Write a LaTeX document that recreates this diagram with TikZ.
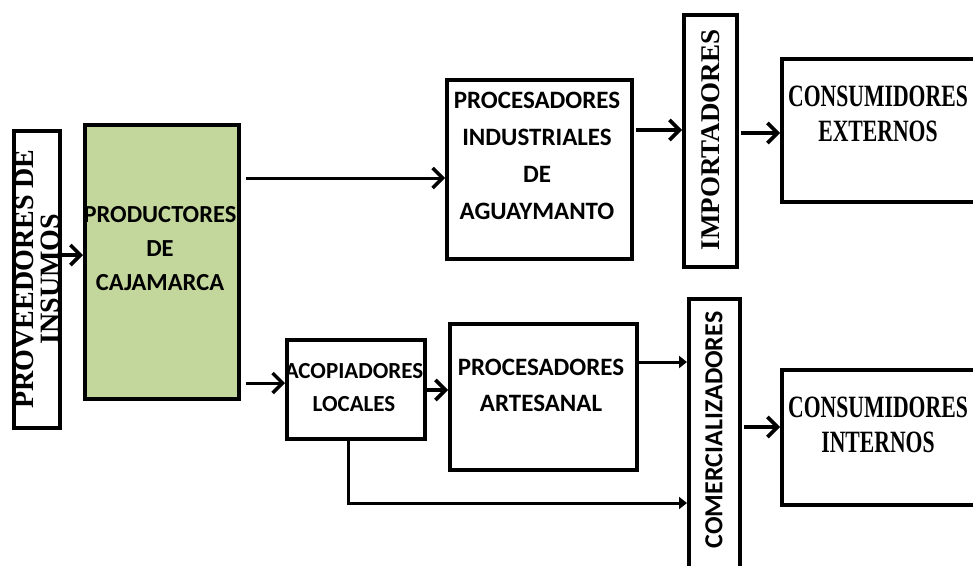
\documentclass[tikz,border=0pt]{standalone}
\usepackage{fontspec}
\setmainfont{Liberation Serif}
\newfontfamily\sansf{Carlito}
\usetikzlibrary{arrows.meta}
\definecolor{prodgreen}{HTML}{C3D69B}
\newcommand{\cond}[1]{\scalebox{0.7}[1]{#1}}
\tikzset{
  box/.style={draw, line width=3.8pt, inner sep=0pt, anchor=north west},
  st/.style={font=\sansf\bfseries\fontsize{25}{35}\selectfont, align=center, inner sep=0pt},
  se/.style={font=\bfseries\fontsize{31}{35}\selectfont, align=center, inner sep=0pt},
  arr/.style={line width=3pt, -{Straight Barb[length=10pt,width=20pt,line width=3.4pt]}},
  arrt/.style={line width=4.5pt, -{Straight Barb[length=10pt,width=20pt,line width=3.6pt]}},
  arrs/.style={line width=3pt, -{Triangle[length=8pt,width=12pt]}}
}
\begin{document}
\begin{tikzpicture}[x=1pt,y=-1pt]
\useasboundingbox (0,0) rectangle (973,565);
\fill[white] (0,0) rectangle (973,565);
\clip (0,0) rectangle (973,565);
% boxes
\node[box, minimum width=46pt, minimum height=297pt] (prov) at (12,129) {};
\node[box, fill=prodgreen, minimum width=154pt, minimum height=274pt] (prod) at (83,123) {};
\node[box, minimum width=185pt, minimum height=179pt] (pind) at (445,78) {};
\node[box, minimum width=53pt, minimum height=252pt] (imp) at (682,13) {};
\node[box, minimum width=220pt, minimum height=143pt] (cext) at (780,57) {};
\node[box, minimum width=138pt, minimum height=99pt] (aco) at (285,338) {};
\node[box, minimum width=187pt, minimum height=146pt] (part) at (448,322) {};
\node[box, minimum width=51pt, minimum height=300pt] (com) at (687,297) {};
\node[box, minimum width=220pt, minimum height=135pt] (cint) at (780,368) {};
% texts
\node[se, rotate=90, font=\bfseries\fontsize{28}{26}\selectfont] (tprov) at (37,279) {PROVEEDORES DE\\INSUMOS};
\node[st, font=\sansf\bfseries\fontsize{24.5}{34}\selectfont] (tprod) at (160,249) {PRODUCTORES\\DE\\CAJAMARCA};
\node[st, font=\sansf\bfseries\fontsize{25}{37}\selectfont] (tpind) at (537,156) {PROCESADORES\\INDUSTRIALES\\DE\\AGUAYMANTO};
\node[se, rotate=90, font=\bfseries\fontsize{27}{30}\selectfont] (timp) at (711,140) {IMPORTADORES};
\node[se] (tcext) at (878,114) {\cond{CONSUMIDORES}\\\cond{EXTERNOS}};
\node[st, font=\sansf\bfseries\fontsize{23}{33}\selectfont] (taco) at (354,388) {ACOPIADORES\\LOCALES};
\node[st, font=\sansf\bfseries\fontsize{25}{36}\selectfont] (tpart) at (541,385) {PROCESADORES\\ARTESANAL};
\node[st, rotate=90, font=\sansf\bfseries\fontsize{26}{30}\selectfont] (tcom) at (714,430) {COMERCIALIZADORES};
\node[se] (tcint) at (878,425) {\cond{CONSUMIDORES}\\\cond{INTERNOS}};
% connectors
\draw[arrt] (prov.east |- 0,255) -- (prod.west |- 0,255);
\draw[arr] ([xshift=5pt]prod.east |- 0,178) -- (pind.west |- 0,178);
\draw[arr] ([xshift=5pt]prod.east |- 0,383) -- (aco.west |- 0,383);
\draw[arrt] ([xshift=2pt]pind.east |- 0,130) -- (imp.west |- 0,130);
\draw[arrt] ([xshift=2pt]imp.east |- 0,133) -- (cext.west |- 0,133);
\draw[arrt] (aco.east |- 0,390) -- (part.west |- 0,390);
\draw[arrs] (part.east |- 0,362) -- (com.west |- 0,362);
\draw[arrs] (aco.south -| 348,0) |- (com.west |- 0,503);
\draw[arrt] ([xshift=2pt]com.east |- 0,427) -- (cint.west |- 0,427);
\end{tikzpicture}
\end{document}
